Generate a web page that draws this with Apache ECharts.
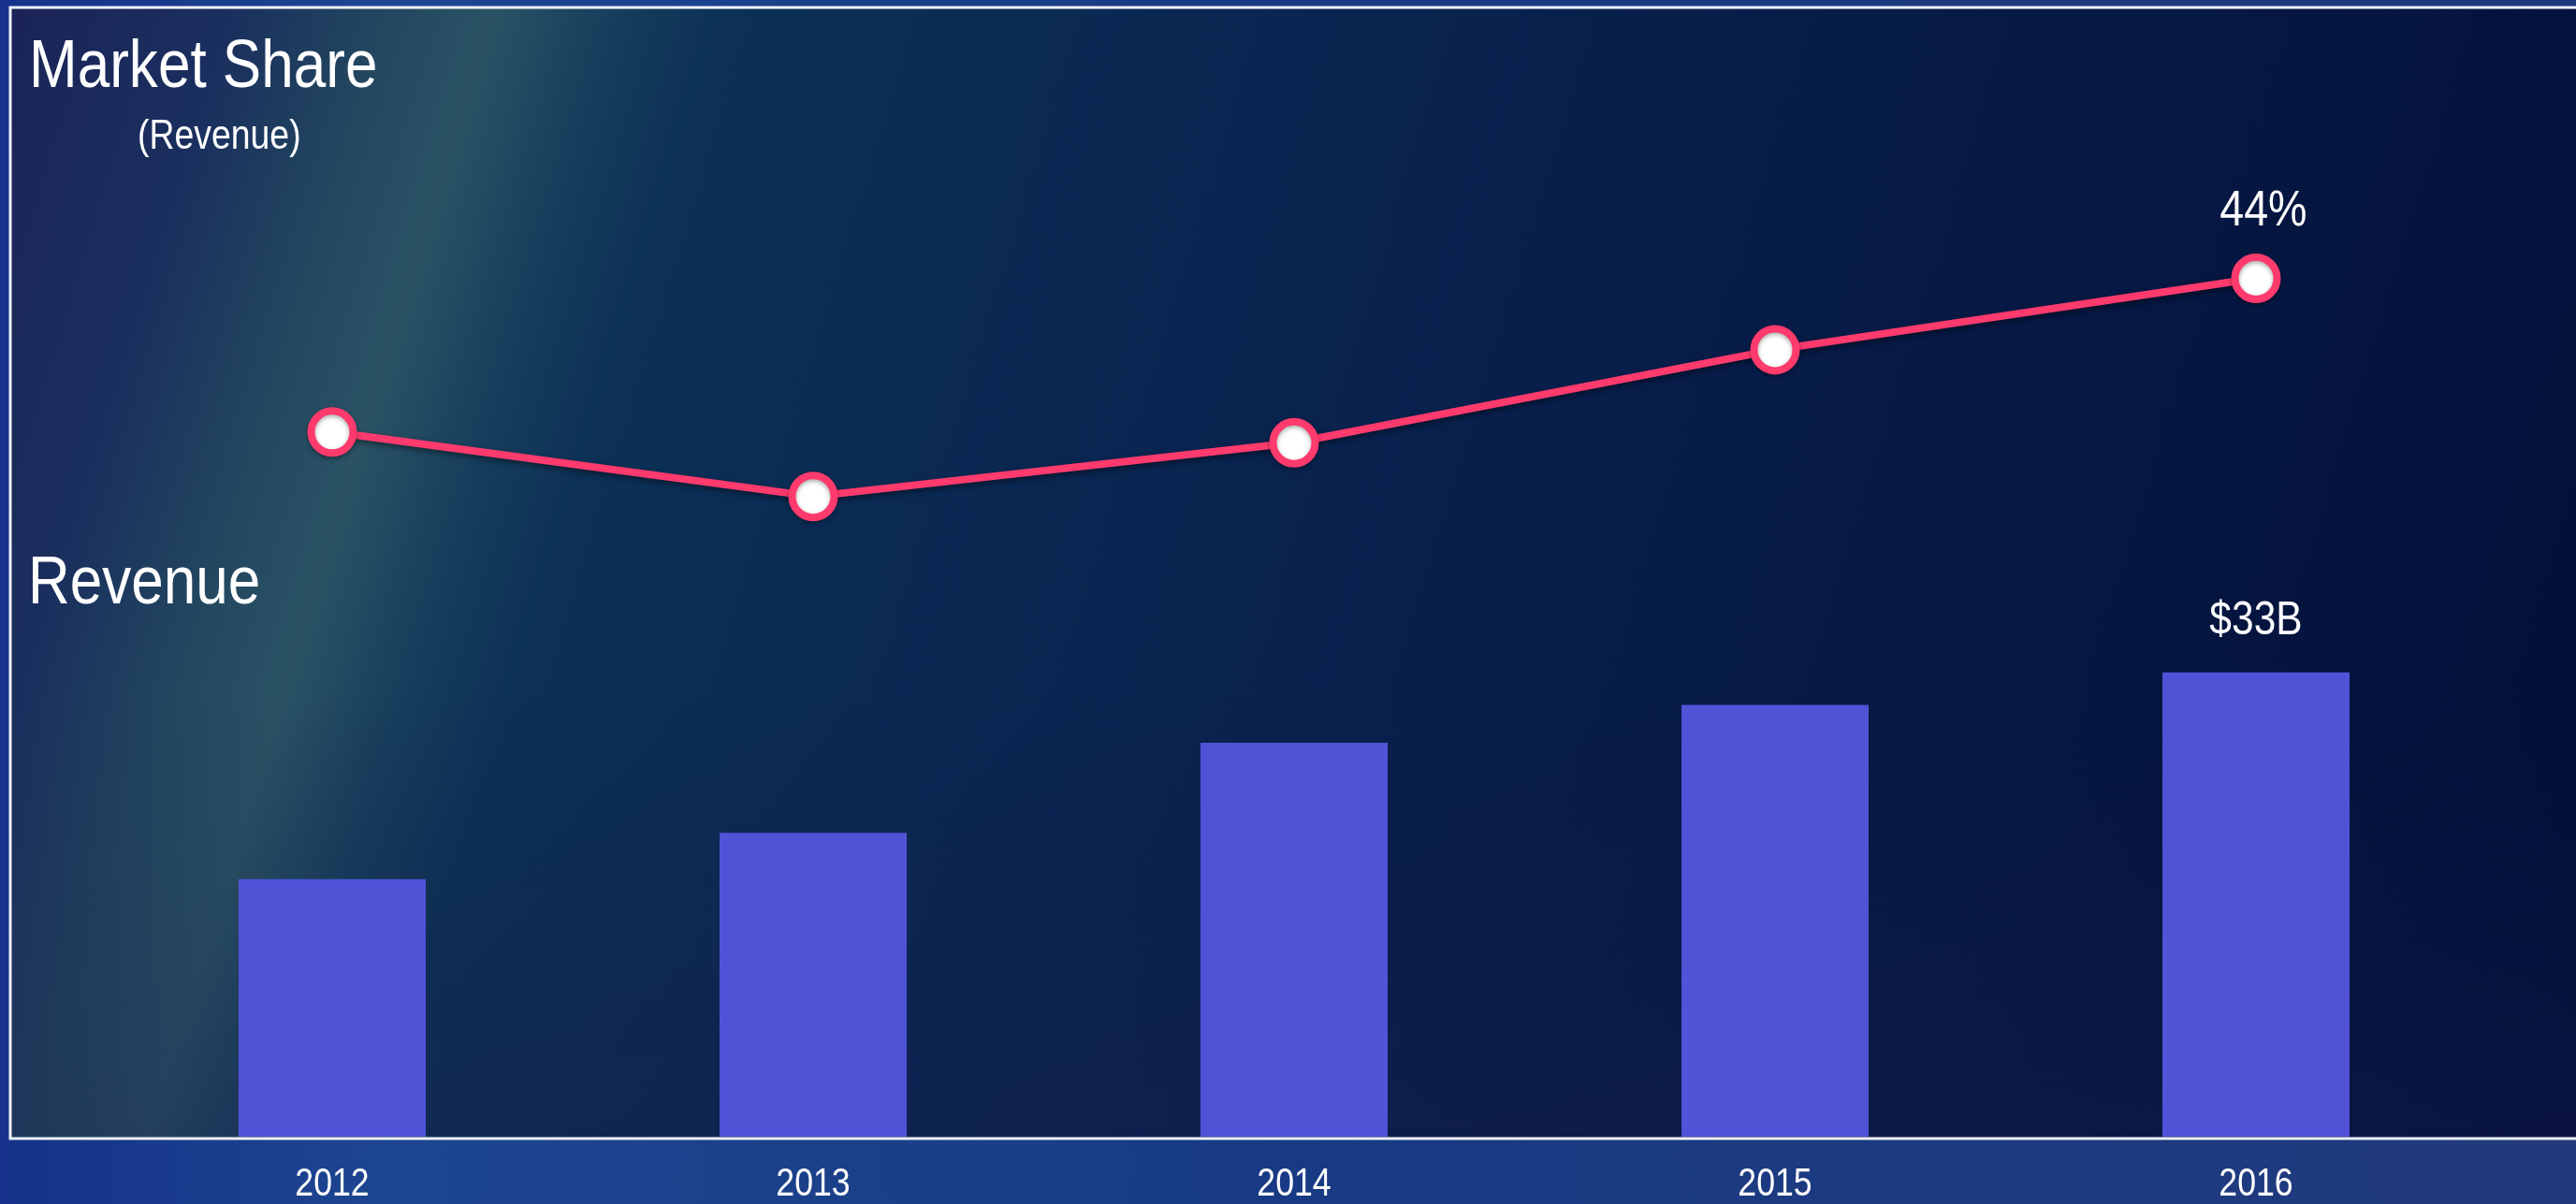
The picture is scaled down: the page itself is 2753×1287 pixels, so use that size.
<!DOCTYPE html>
<html>
<head>
<meta charset="utf-8">
<script src="https://cdn.jsdelivr.net/npm/echarts@6/dist/echarts.min.js"></script>
<style>
  html, body { margin: 0; padding: 0; background: #14367f; }
  #chart { width: 2753px; height: 1287px; }
</style>
</head>
<body>
<div id="chart"></div>
<script>
// ---- data ----
const years = ['2012', '2013', '2014', '2015', '2016'];
const revenue = [18.3, 21.6, 28.0, 30.7, 33];          // $B
const marketShare = [39.7, 37.9, 39.4, 42.0, 44];     // %
const revenueLabels = ['', '', '', '', '$33B'];
const shareLabels = ['', '', '', '', '44%'];

const FONT = '"Liberation Sans", Arial, sans-serif';
const NARROW = 0.85;
const chart = echarts.init(document.getElementById('chart'));
const LG = echarts.graphic.LinearGradient;

const barData = revenue.map((v, i) => ({
  value: v,
  label: { show: revenueLabels[i] !== '', formatter: revenueLabels[i] }
}));
const lineData = marketShare.map((v, i) => ({
  value: v,
  label: { show: shareLabels[i] !== '', formatter: shareLabels[i] }
}));

const option = {
  backgroundColor: new LG(0, 0, 1, 0, [
    { offset: 0, color: '#16328a' },
    { offset: 0.15, color: '#1d4690' },
    { offset: 0.5, color: '#183a84' },
    { offset: 1, color: '#213a7c' }
  ]),
  animation: false,
  grid: { left: 98, right: 85, top: 8, bottom: 70 },
  xAxis: {
    type: 'category',
    data: years,
    boundaryGap: true,
    axisLine: { show: false },
    axisTick: { show: false },
    splitLine: { show: false },
    axisLabel: {
      color: '#ffffff',
      fontSize: 42,
      fontFamily: FONT,
      margin: 30
    }
  },
  yAxis: [
    { type: 'value', min: 0, max: 80.28, show: false, splitLine: { show: false } },
    { type: 'value', min: 20, max: 51.57, show: false, splitLine: { show: false } }
  ],
  series: [
    {
      type: 'bar',
      yAxisIndex: 0,
      data: barData,
      barWidth: 200,
      itemStyle: { color: '#5153d7' },
      label: {
        position: 'top',
        distance: 30,
        color: '#ffffff',
        fontSize: 50,
        fontFamily: FONT
      },
      z: 2
    },
    {
      type: 'line',
      yAxisIndex: 1,
      data: lineData,
      symbol: 'circle',
      symbolSize: 45,
      lineStyle: {
        color: '#ff3a6d',
        width: 8,
        shadowColor: 'rgba(0,0,0,0.45)',
        shadowBlur: 6,
        shadowOffsetY: 3
      },
      itemStyle: {
        color: '#ffffff',
        borderColor: '#ff3a6d',
        borderWidth: 8,
        shadowColor: 'rgba(0,0,0,0.35)',
        shadowBlur: 5,
        shadowOffsetY: 2
      },
      label: {
        position: 'top',
        distance: 18,
        offset: [9, 0],
        color: '#ffffff',
        fontSize: 53,
        fontFamily: FONT
      },
      z: 3
    }
  ],
  graphic: [
    {
      type: 'rect', z: -10, silent: true,
      shape: { x: 11, y: 8, width: 2760, height: 1209 },
      style: {
        fill: new LG(0, 0, 2858, 879, [
          { offset: 0, color: '#1b2257' },
          { offset: 0.08, color: '#1a2f5e' },
          { offset: 0.13, color: '#22465f' },
          { offset: 0.17, color: '#2a5264' },
          { offset: 0.21, color: '#173e5c' },
          { offset: 0.25, color: '#0c3056' },
          { offset: 0.4, color: '#0a2752' },
          { offset: 0.6, color: '#081d4a' },
          { offset: 0.8, color: '#051641' },
          { offset: 1, color: '#020e38' }
        ], true)
      }
    },
    {
      type: 'rect', z: -9, silent: true,
      shape: { x: 11, y: 8, width: 2760, height: 1209 },
      style: {
        fill: new LG(0, 0, 0, 1, [
          { offset: 0, color: 'rgba(20,25,70,0)' },
          { offset: 0.6, color: 'rgba(20,25,70,0)' },
          { offset: 1, color: 'rgba(25,30,80,0.35)' }
        ])
      }
    },
    {
      type: 'rect', z: 1, silent: true,
      shape: { x: 11, y: 8, width: 2760, height: 1209 },
      style: { fill: 'none', stroke: '#eef1f8', lineWidth: 3 }
    },
    {
      type: 'text', z: 5, x: 31, y: 73, scaleX: NARROW,
      style: {
        text: 'Market Share', fill: '#ffffff',
        font: '73px ' + FONT,
        verticalAlign: 'middle', align: 'left'
      }
    },
    {
      type: 'text', z: 5, x: 147, y: 147, scaleX: NARROW,
      style: {
        text: '(Revenue)', fill: '#ffffff',
        font: '44px ' + FONT,
        verticalAlign: 'middle', align: 'left'
      }
    },
    {
      type: 'text', z: 5, x: 30, y: 625, scaleX: NARROW,
      style: {
        text: 'Revenue', fill: '#ffffff',
        font: '73px ' + FONT,
        verticalAlign: 'middle', align: 'left'
      }
    }
  ]
};
chart.setOption(option);

// Condense the library-drawn labels (the reference uses a narrow typeface)
try {
  const zr = chart.getZr();
  const narrowMap = {};
  years.forEach(t => narrowMap[t] = NARROW);
  revenueLabels.filter(Boolean).forEach(t => narrowMap[t] = NARROW);
  shareLabels.filter(Boolean).forEach(t => narrowMap[t] = 0.88);
  const list = zr.storage.getDisplayList(true);
  const done = new Set();
  list.forEach(el => {
    const host = (el.type === 'tspan' && el.parent) ? el.parent : el;
    const txt = (host.style && host.style.text != null) ? String(host.style.text) : null;
    if (txt != null && narrowMap[txt] && !done.has(host)) {
      done.add(host);
      host.scaleX = narrowMap[txt];
      host.markRedraw && host.markRedraw();
    }
  });
  zr.refreshImmediately();
} catch (e) { console.error(e); }
</script>
</body>
</html>
